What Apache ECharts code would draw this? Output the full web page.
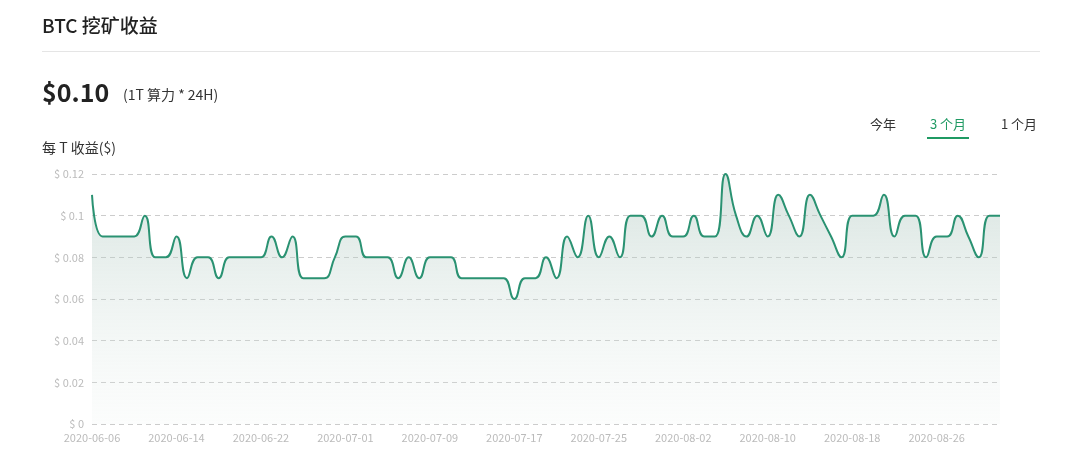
<!DOCTYPE html>
<html>
<head>
<meta charset="utf-8">
<script src="https://cdn.jsdelivr.net/npm/echarts@6/dist/echarts.min.js"></script>
<style>
html, body { margin: 0; padding: 0; background: #fff; }
#main { width: 1072px; height: 476px; }
</style>
</head>
<body>
<div id="main"></div>
<script>
// 日期（2020-06-30 缺失）
var startDate = '2020-06-06';
var skipDates = ['2020-06-30'];
var dates = [];
(function () {
    var d = new Date(startDate + 'T00:00:00Z');
    while (dates.length < 87) {
        var s = d.toISOString().slice(0, 10);
        if (skipDates.indexOf(s) < 0) dates.push(s);
        d.setUTCDate(d.getUTCDate() + 1);
    }
})();

// 每 T 收益
var profit = [
    0.11, 0.09, 0.09, 0.09, 0.09, 0.10, 0.08, 0.08, 0.09, 0.07,
    0.08, 0.08, 0.07, 0.08, 0.08, 0.08, 0.08, 0.09, 0.08, 0.09,
    0.07, 0.07, 0.07, 0.08, 0.09, 0.09, 0.08, 0.08, 0.08, 0.07,
    0.08, 0.07, 0.08, 0.08, 0.08, 0.07, 0.07, 0.07, 0.07, 0.07,
    0.06, 0.07, 0.07, 0.08, 0.07, 0.09, 0.08, 0.10, 0.08, 0.09,
    0.08, 0.10, 0.10, 0.09, 0.10, 0.09, 0.09, 0.10, 0.09, 0.09,
    0.12, 0.10, 0.09, 0.10, 0.09, 0.11, 0.10, 0.09, 0.11, 0.10,
    0.09, 0.08, 0.10, 0.10, 0.10, 0.11, 0.09, 0.10, 0.10, 0.08,
    0.09, 0.09, 0.10, 0.09, 0.08, 0.10, 0.10
];

var tabs = ['今年', '3 个月', '1 个月'];
var tabX = [883, 948, 1019];

var myChart = echarts.init(document.getElementById('main'));

var font = '"PingFang SC", "Noto Sans CJK SC", sans-serif';
var graphics = [
    { type: 'text', left: 42, top: 16, style: { text: 'BTC 挖矿收益', font: '500 19px ' + font, fill: '#222' } },
    { type: 'line', shape: { x1: 42, y1: 51.5, x2: 1040, y2: 51.5 }, style: { stroke: '#e5e5e5', lineWidth: 1 } },
    { type: 'text', left: 42, top: 80, style: { text: '$0.10', font: 'bold 25px ' + font, fill: '#222' } },
    { type: 'text', left: 123, top: 88, style: { text: '(1T 算力 * 24H)', font: '14px ' + font, fill: '#333' } },
    { type: 'text', left: 42, top: 141, style: { text: '每 T 收益($)', font: '14px ' + font, fill: '#333' } }
];
tabs.forEach(function (t, i) {
    graphics.push({ type: 'text', x: tabX[i], y: 124, style: { text: t, font: '13px ' + font, fill: i === 1 ? '#1f9a63' : '#333', align: 'center', verticalAlign: 'middle' } });
});
graphics.push({ type: 'line', shape: { x1: 927, y1: 138, x2: 969, y2: 138 }, style: { stroke: '#1f9a63', lineWidth: 2 } });

var option = {
    animation: false,
    graphic: graphics,
    grid: { left: 92, right: 72, top: 174, bottom: 52 },
    xAxis: {
        type: 'category',
        data: dates,
        boundaryGap: false,
        axisLine: { show: false },
        axisTick: { show: false },
        axisLabel: { interval: 7, color: '#bbb', fontSize: 11, margin: 8, fontFamily: font }
    },
    yAxis: {
        type: 'value',
        min: 0,
        max: 0.12,
        interval: 0.02,
        axisLine: { show: false },
        axisTick: { show: false },
        axisLabel: {
            color: '#bbb', fontSize: 11, margin: 8, fontFamily: font,
            formatter: function (v) { return '$ ' + Number(v.toFixed(2)); }
        },
        splitLine: { lineStyle: { color: '#ccc', type: [5, 4] } }
    },
    series: [{
        type: 'line',
        data: profit,
        smooth: true,
        showSymbol: false,
        lineStyle: { color: '#2a9272', width: 2 },
        areaStyle: {
            color: new echarts.graphic.LinearGradient(0, 0, 0, 1, [
                { offset: 0, color: 'rgba(160,190,180,0.6)' },
                { offset: 1, color: 'rgba(230,238,235,0.2)' }
            ])
        }
    }]
};

myChart.setOption(option);
</script>
</body>
</html>
